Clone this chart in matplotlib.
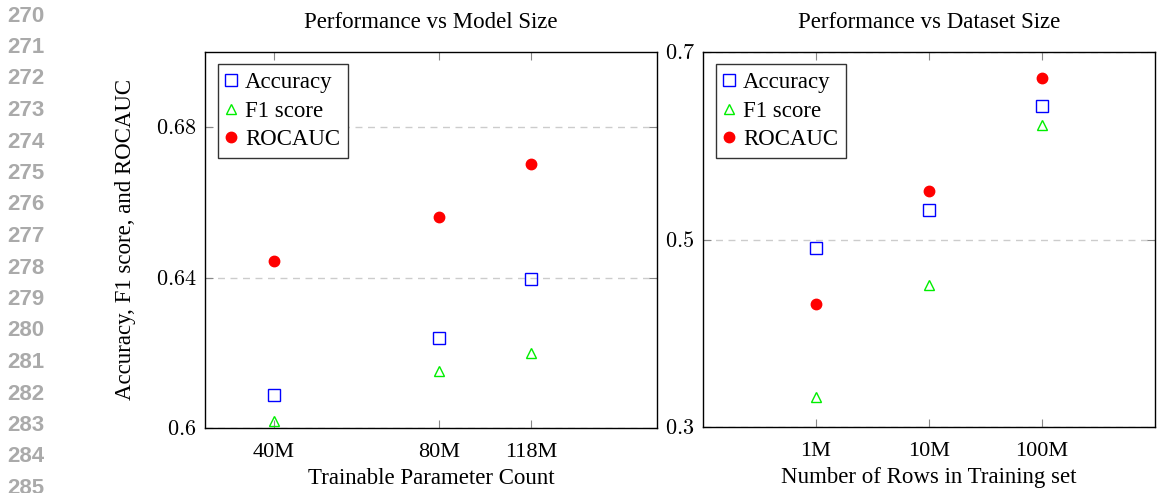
import matplotlib
matplotlib.use("Agg")
import matplotlib.pyplot as plt
from matplotlib.ticker import FixedLocator, NullLocator, FixedFormatter

plt.rcParams['font.family'] = ['Liberation Serif', 'DejaVu Serif']
plt.rcParams['mathtext.fontset'] = 'cm'

# ---- data: model size ----
model_sizes = [40, 80, 118]
model_labels = ["40M", "80M", "118M"]
model_acc = [0.6088, 0.6240, 0.6397]
model_f1 = [0.6019, 0.6152, 0.6200]
model_roc = [0.6445, 0.6560, 0.6701]
model_yticks = [0.6, 0.64, 0.68]
model_yticklabels = ["0.6", "0.64", "0.68"]

# ---- data: dataset size ----
data_sizes = [1, 10, 100]
data_labels = ["1M", "10M", "100M"]
data_acc = [0.491, 0.531, 0.642]
data_f1 = [0.332, 0.4515, 0.622]
data_roc = [0.431, 0.552, 0.672]
data_yticks = [0.3, 0.5, 0.7]
data_yticklabels = ["0.3", "0.5", "0.7"]

line_numbers = list(range(270, 286))

W, H = 1157, 493
fig = plt.figure(figsize=(W / 100, H / 100), dpi=100)

def px_axes(x0, y0, x1, y1):
    return fig.add_axes([x0 / W, (H - y1) / H, (x1 - x0) / W, (y1 - y0) / H])

ax1 = px_axes(205, 52, 657, 428)
ax2 = px_axes(703, 52, 1155, 427)

def style(ax, xs, xlabels, yticks, ylabels, xlim, ylim, title, xlabel):
    ax.set_xscale('log')
    ax.set_xlim(*xlim)
    ax.set_ylim(*ylim)
    ax.xaxis.set_major_locator(FixedLocator(xs))
    ax.xaxis.set_major_formatter(FixedFormatter(xlabels))
    ax.xaxis.set_minor_locator(NullLocator())
    ax.yaxis.set_major_locator(FixedLocator(yticks))
    ax.yaxis.set_major_formatter(FixedFormatter([f"${l}$" for l in ylabels]))
    ax.yaxis.set_minor_locator(NullLocator())
    ax.tick_params(direction='in', top=True, right=True, length=6, width=0.8,
                   color='#888888', labelsize=16)
    ax.tick_params(axis='x', pad=11)
    ax.tick_params(axis='y', pad=6)
    ax.yaxis.grid(True, linestyle=(0, (5, 4)), color='#cccccc', linewidth=1.0)
    ax.set_axisbelow(True)
    for s in ax.spines.values():
        s.set_linewidth(1.0)
        s.set_color('black')
    ax.set_title(title, fontsize=16.5, pad=17)
    ax.set_xlabel(xlabel, fontsize=16.5, labelpad=4)

def plot_series(ax, xs, acc, f1, roc):
    ax.plot(xs, acc, linestyle='none', marker='s', markersize=8, markerfacecolor='none',
            markeredgecolor='blue', markeredgewidth=1.0, label='Accuracy', clip_on=False)
    ax.plot(xs, f1, linestyle='none', marker='^', markersize=7, markerfacecolor='none',
            markeredgecolor='#00ee00', markeredgewidth=1.0, label='F1 score', clip_on=False)
    ax.plot(xs, roc, linestyle='none', marker='o', markersize=7.5, markerfacecolor='red',
            markeredgecolor='red', label='ROCAUC', clip_on=False)
    leg = ax.legend(loc='upper left', bbox_to_anchor=(0.028, 0.968), fontsize=16.5,
                    frameon=True, fancybox=False, edgecolor='#333333', framealpha=1,
                    handlelength=0.5, handletextpad=0.35, borderpad=0.35,
                    labelspacing=0.33, borderaxespad=0)
    leg.get_frame().set_linewidth(1.0)

style(ax1, model_sizes, model_labels, model_yticks, model_yticklabels,
      (30, 200), (0.6, 0.70), "Performance vs Model Size", "Trainable Parameter Count")
plot_series(ax1, model_sizes, model_acc, model_f1, model_roc)
ax1.set_ylabel("Accuracy, F1 score, and ROCAUC", fontsize=16.5, labelpad=14)

style(ax2, data_sizes, data_labels, data_yticks, data_yticklabels,
      (0.1, 1000), (0.3, 0.7), "Performance vs Dataset Size", "Number of Rows in Training set")
plot_series(ax2, data_sizes, data_acc, data_f1, data_roc)

# margin line numbers
y0, dy = 16, 31.5
for i, n in enumerate(line_numbers):
    fig.text(7 / W, 1 - (y0 + i * dy) / H, str(n), fontsize=16, fontweight='bold',
             color='#aaaaaa', family='Liberation Sans', va='center', ha='left')

fig.savefig("out.png", dpi=100)
